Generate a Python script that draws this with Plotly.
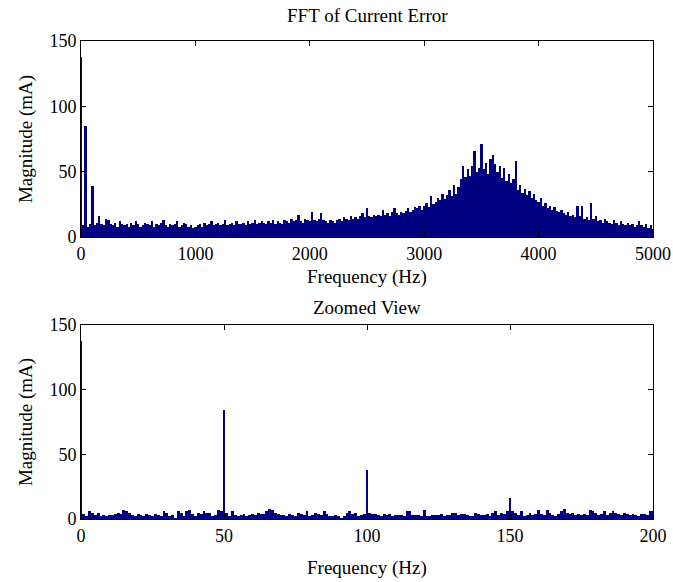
import plotly.graph_objects as go
from plotly.subplots import make_subplots

# Top panel: full spectrum, 20 Hz bins (0..5000 Hz)
top_step_hz = 20
top_mag = [
    138, 9, 85, 8, 10, 39, 9, 11, 16, 10,
    9, 14, 13, 10, 9, 11, 8, 12, 10, 9,
    10, 8, 11, 9, 12, 10, 8, 9, 11, 10,
    9, 12, 8, 10, 9, 11, 13, 9, 8, 10,
    9, 10, 12, 8, 9, 11, 10, 8, 9, 7,
    8, 9, 10, 8, 11, 9, 10, 12, 9, 10,
    11, 9, 10, 13, 9, 10, 11, 9, 12, 10,
    10, 11, 9, 12, 10, 11, 13, 10, 11, 12,
    11, 10, 12, 11, 13, 10, 12, 11, 10, 13,
    12, 11, 14, 12, 13, 17, 12, 11, 14, 13,
    12, 19, 13, 12, 14, 18, 13, 12, 11, 13,
    12, 11, 13, 14, 12, 15, 14, 13, 16, 14,
    15, 14, 16, 18, 15, 22, 16, 15, 17, 16,
    17, 16, 21, 17, 18, 16, 19, 22, 18, 17,
    19, 18, 20, 22, 19, 21, 23, 22, 24, 21,
    24, 26, 23, 31, 25, 27, 30, 28, 33, 29,
    32, 36, 31, 40, 33, 38, 44, 54, 46, 52,
    47, 54, 66, 50, 53, 71, 52, 57, 48, 60,
    63, 56, 50, 54, 45, 53, 43, 48, 41, 44,
    58, 36, 40, 34, 37, 32, 35, 30, 33, 28,
    27, 30, 24, 26, 22, 24, 21, 23, 20, 19,
    21, 18, 17, 19, 16, 17, 15, 24, 16, 24,
    14, 15, 13, 26, 14, 16, 12, 13, 11, 14,
    12, 11, 10, 13, 11, 9, 12, 10, 9, 11,
    9, 10, 8, 9, 12, 9, 8, 10, 7, 9,
    6,
]
top_freq = [i * top_step_hz for i in range(len(top_mag))]

# Bottom panel: zoomed view, 1 Hz bins (0..200 Hz)
zoom_mag = [
    138,
    4, 2, 6, 5, 3, 5, 2, 3, 2, 3,
    3, 4, 5, 4, 7, 6, 5, 3, 2, 4,
    3, 2, 4, 3, 2, 4, 3, 2, 6, 5,
    2, 3, 1, 6, 5, 2, 6, 7, 4, 2,
    5, 4, 6, 5, 5, 2, 3, 7, 6, 84,
    5, 2, 6, 3, 2, 3, 4, 2, 3, 4,
    3, 5, 4, 4, 6, 8, 7, 5, 4, 3,
    3, 2, 4, 3, 2, 5, 4, 3, 6, 2,
    3, 5, 4, 3, 6, 4, 2, 2, 3, 2,
    1, 2, 5, 6, 4, 5, 2, 3, 4, 38,
    5, 4, 4, 3, 2, 4, 3, 4, 2, 3,
    3, 3, 2, 6, 6, 3, 3, 3, 2, 7,
    2, 2, 3, 3, 3, 4, 2, 3, 3, 5,
    5, 3, 4, 4, 3, 2, 2, 5, 4, 3,
    3, 4, 2, 5, 6, 3, 5, 4, 6, 16,
    6, 5, 3, 6, 2, 3, 5, 3, 4, 7,
    4, 3, 7, 5, 3, 2, 4, 6, 8, 5,
    4, 5, 3, 4, 3, 4, 3, 7, 6, 5,
    3, 4, 6, 3, 5, 6, 5, 4, 3, 5,
    4, 3, 4, 3, 2, 4, 4, 3, 6, 6,
]
zoom_freq = list(range(len(zoom_mag)))

top_xticks = [0, 1000, 2000, 3000, 4000, 5000]
zoom_xticks = [0, 50, 100, 150, 200]
y_ticks = [0, 50, 100, 150]

BAR = "#000080"
FONT = "Liberation Serif"
FS = 19
TFS = 18

fig = make_subplots(rows=2, cols=1, vertical_spacing=0.184)
fig.add_trace(go.Bar(x=top_freq, y=top_mag, width=top_step_hz,
                     marker=dict(color=BAR, line=dict(width=0))), row=1, col=1)
fig.add_trace(go.Bar(x=zoom_freq, y=zoom_mag, width=1,
                     marker=dict(color=BAR, line=dict(width=0))), row=2, col=1)

axis_common = dict(showline=True, linecolor="black", linewidth=1, mirror="allticks",
                   ticks="inside", ticklen=5, tickcolor="black", showgrid=False,
                   zeroline=False, automargin=False, ticklabeloverflow="allow",
                   tickfont=dict(family=FONT, size=TFS, color="black"))

fig.update_xaxes(range=[0, 5000], tickvals=top_xticks, row=1, col=1, **axis_common)
fig.update_xaxes(range=[0, 200], tickvals=zoom_xticks, row=2, col=1, **axis_common)
fig.update_yaxes(range=[0, 150], tickvals=y_ticks, row=1, col=1, **axis_common)
fig.update_yaxes(range=[0, 150], tickvals=y_ticks, row=2, col=1, **axis_common)

fig.update_layout(yaxis=dict(domain=[0.590, 1.0]), yaxis2=dict(domain=[0.0, 0.406]))

def ann(text, x, y, angle=0):
    return dict(text=text, x=x, y=y, xref="paper", yref="paper", showarrow=False,
                xanchor="center", yanchor="middle", textangle=angle,
                font=dict(family=FONT, size=FS, color="black"))

fig.update_layout(
    width=673, height=582,
    margin=dict(l=81, r=20, t=41, b=63),
    paper_bgcolor="white", plot_bgcolor="white",
    showlegend=False, bargap=0,
    annotations=[
        ann("FFT of Current Error", 0.5, 1.054),
        ann("Frequency (Hz)", 0.5, 0.506),
        ann("Zoomed View", 0.5, 0.4435),
        ann("Frequency (Hz)", 0.5, -0.102),
        ann("Magnitude (mA)", -0.096, 0.795, -90),
        ann("Magnitude (mA)", -0.096, 0.203, -90),
    ],
)

fig.write_html("out.html")
